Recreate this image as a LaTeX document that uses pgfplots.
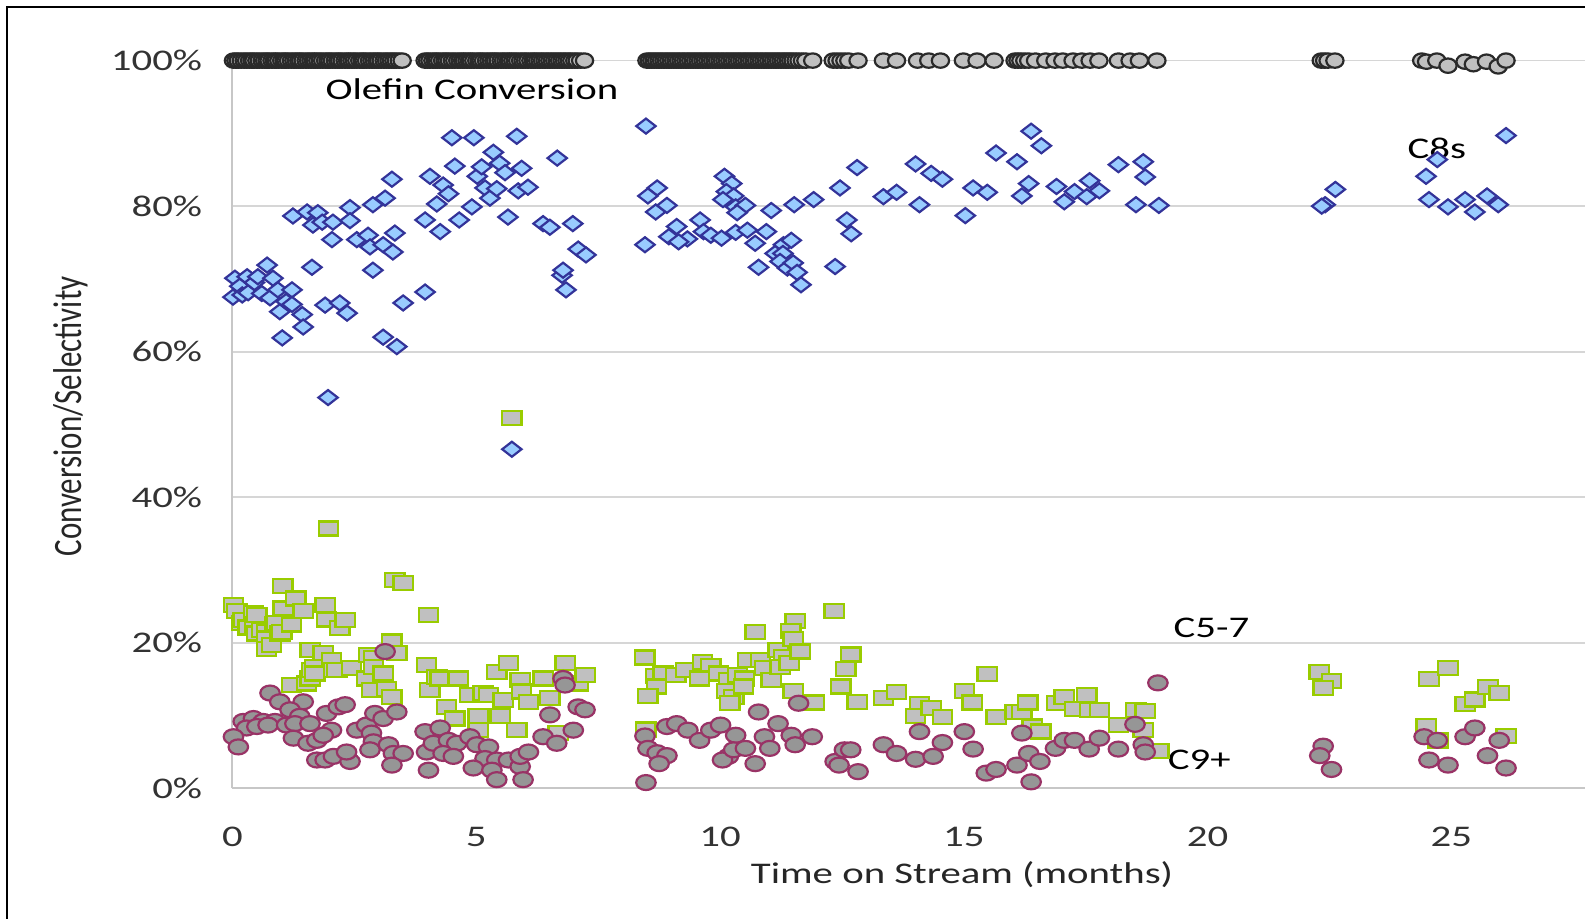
\documentclass[border=0pt]{standalone}
\usepackage{fontspec}
\setmainfont[FakeStretch=1.36]{Carlito}
\newfontfamily\ylabfont{Carlito}
\usepackage{graphicx}
\usepackage{pgfplots}
\pgfplotsset{compat=1.18}
\definecolor{olefill}{HTML}{C0C0C0}
\definecolor{oledraw}{HTML}{2A2A2A}
\definecolor{c8fill}{HTML}{99CCFF}
\definecolor{c8draw}{HTML}{333399}
\definecolor{c57fill}{HTML}{C0C0C0}
\definecolor{c57draw}{HTML}{99CC00}
\definecolor{c9fill}{HTML}{969696}
\definecolor{c9draw}{HTML}{993366}
\newcommand{\lblfont}{\fontsize{15pt}{18pt}\selectfont}
\begin{document}
\begin{tikzpicture}
\path[use as bounding box] (-116.25pt,-65.3pt) rectangle (676.25pt,394.2pt);
\draw[black, line width=1pt] (-112.75pt,-66pt) -- (-112.75pt,390.7pt) -- (677pt,390.7pt);
\begin{axis}[
  at={(0pt,0pt)}, anchor=south west,
  width=676.25pt, height=363.9pt, scale only axis,
  xmin=0, xmax=27.74, ymin=0, ymax=100,
  clip=false,
  axis lines=left,
  axis line style={-, draw=black!22, line width=1pt},
  ymajorgrids, grid style={draw=black!16, line width=0.8pt},
  xtick={0,5,10,15,20,25}, xticklabels={0,5,10,15,20,25},
  ytick={0,20,40,60,80,100}, yticklabels={0\%,20\%,40\%,60\%,80\%,100\%},
  major tick length=0pt,
  tick label style={font=\lblfont, text=black!80},
  yticklabel style={anchor=east, inner sep=0pt, xshift=-15pt},
  xticklabel style={anchor=base, inner sep=0pt, yshift=-29pt},
  xlabel={Time on Stream (months)},
  xlabel style={at={(axis description cs:0.5394,-0.119)}, anchor=center, font=\lblfont, text=black!85},
  ylabel={\ylabfont\fontsize{15.5pt}{18pt}\selectfont\scalebox{1}[1.3]{Conversion/Selectivity}},
  ylabel style={at={(axis description cs:-0.1194,0.511)}, anchor=center, text=black!85},
]
% Olefin Conversion
\addplot[only marks, mark=*, mark size=3.6pt, mark options={xscale=1.2, fill=olefill, draw=oledraw, line width=1.1pt}] table {
x y
0.02 100
0.07 100
0.12 100
0.18 100
0.24 100
0.29 100
0.35 100
0.40 100
0.44 100
0.50 100
0.55 100
0.61 100
0.66 100
0.71 100
0.75 100
0.81 100
0.86 100
0.90 100
0.95 100
1.01 100
1.06 100
1.10 100
1.15 100
1.21 100
1.26 100
1.31 100
1.36 100
1.40 100
1.45 100
1.51 100
1.56 100
1.61 100
1.66 100
1.70 100
1.75 100
1.80 100
1.85 100
1.91 100
1.96 100
2.00 100
2.05 100
2.11 100
2.16 100
2.20 100
2.25 100
2.31 100
2.36 100
2.40 100
2.45 100
2.50 100
2.55 100
2.61 100
2.66 100
2.70 100
2.75 100
2.81 100
2.86 100
2.91 100
2.96 100
3.00 100
3.05 100
3.11 100
3.16 100
3.21 100
3.26 100
3.31 100
3.36 100
3.42 100
3.48 100
3.95 100
4.00 100
4.05 100
4.11 100
4.16 100
4.20 100
4.25 100
4.31 100
4.36 100
4.40 100
4.45 100
4.51 100
4.56 100
4.62 100
4.67 100
4.72 100
4.76 100
4.81 100
4.86 100
4.90 100
4.95 100
5.01 100
5.06 100
5.10 100
5.15 100
5.21 100
5.26 100
5.31 100
5.36 100
5.40 100
5.45 100
5.51 100
5.56 100
5.61 100
5.66 100
5.70 100
5.75 100
5.80 100
5.85 100
5.91 100
5.96 100
6.01 100
6.06 100
6.12 100
6.17 100
6.21 100
6.26 100
6.31 100
6.36 100
6.41 100
6.46 100
6.51 100
6.56 100
6.61 100
6.66 100
6.71 100
6.76 100
6.81 100
6.86 100
6.91 100
6.96 100
7.02 100
7.07 100
7.14 100
7.22 100
8.50 100
8.55 100
8.60 100
8.65 100
8.70 100
8.75 100
8.80 100
8.85 100
8.90 100
8.95 100
9.00 100
9.05 100
9.10 100
9.15 100
9.20 100
9.25 100
9.30 100
9.35 100
9.40 100
9.45 100
9.50 100
9.55 100
9.60 100
9.65 100
9.70 100
9.75 100
9.80 100
9.85 100
9.90 100
9.95 100
10.00 100
10.05 100
10.10 100
10.15 100
10.20 100
10.25 100
10.30 100
10.35 100
10.40 100
10.45 100
10.50 100
10.55 100
10.60 100
10.65 100
10.70 100
10.75 100
10.80 100
10.85 100
10.90 100
10.95 100
11.00 100
11.05 100
11.10 100
11.15 100
11.20 100
11.25 100
11.30 100
11.35 100
11.40 100
11.45 100
11.50 100
11.56 100
11.62 100
11.69 100
11.76 100
11.90 100
12.32 100
12.40 100
12.48 100
12.56 100
12.64 100
12.83 100
13.35 100
13.62 100
14.05 100
14.28 100
14.52 100
14.99 100
15.27 100
15.62 100
16.05 100
16.11 100
16.17 100
16.25 100
16.33 100
16.47 100
16.68 100
16.87 100
17.03 100
17.24 100
17.42 100
17.59 100
17.77 100
18.17 100
18.41 100
18.60 100
18.96 100
22.33 100
22.40 100
22.47 100
22.61 100
24.39 100
24.49 99.85
24.70 100
24.93 99.3
25.28 99.85
25.45 99.5
25.72 99.85
25.96 99.2
26.12 100
};
% C8s
\addplot[only marks, mark=diamond*, mark size=3.75pt, mark options={xscale=1.72, fill=c8fill, draw=c8draw, line width=1.1pt}] table {
x y
0.01 67.5
0.05 70.1
0.15 69.0
0.20 67.8
0.30 70.3
0.32 68.1
0.45 69.5
0.52 70.3
0.60 68.0
0.71 71.9
0.77 67.4
0.83 70.1
0.93 68.5
0.97 65.5
1.02 61.9
1.10 66.9
1.22 68.5
1.22 66.5
1.24 78.65
1.43 65.1
1.45 63.4
1.53 79.2
1.63 71.6
1.65 77.4
1.75 79.1
1.84 77.8
1.90 66.4
1.96 53.7
2.04 75.4
2.06 77.8
2.20 66.7
2.35 65.3
2.41 79.8
2.41 78.0
2.55 75.4
2.78 76.0
2.82 74.4
2.88 80.2
2.88 71.2
3.09 74.7
3.09 62.0
3.13 81.1
3.27 83.7
3.29 73.7
3.33 76.3
3.37 60.7
3.50 66.7
3.95 78.1
3.95 68.2
4.05 84.1
4.19 80.3
4.26 76.5
4.32 82.9
4.43 81.7
4.50 89.4
4.56 85.5
4.65 78.1
4.91 79.9
4.95 89.4
5.02 84.1
5.11 85.4
5.18 82.5
5.28 81.1
5.35 87.4
5.42 82.4
5.48 85.9
5.59 84.6
5.65 78.5
5.73 46.6
5.83 89.6
5.86 82.1
5.93 85.2
6.06 82.6
6.37 77.6
6.51 77.1
6.66 86.6
6.76 70.5
6.78 71.2
6.84 68.5
6.98 77.6
7.09 74.1
7.25 73.3
8.48 91.0
8.71 82.5
8.52 81.4
8.68 79.2
8.91 80.1
9.11 77.2
9.33 75.5
8.46 74.7
8.95 75.8
9.15 75.1
9.59 78.1
9.66 76.5
9.81 76.0
10.03 75.6
10.09 84.1
10.24 83.1
10.13 82.0
10.28 81.4
10.06 80.9
10.32 79.9
10.52 80.1
10.35 79.1
10.32 76.4
10.56 76.7
10.72 74.9
10.95 76.5
11.05 79.4
10.79 71.6
11.13 73.5
11.30 74.7
11.46 75.3
11.29 73.5
11.23 72.4
11.38 71.5
11.50 72.2
11.58 70.9
11.66 69.2
11.52 80.2
11.92 80.9
12.46 82.5
12.81 85.3
12.60 78.1
12.69 76.2
12.36 71.7
13.35 81.3
13.62 81.9
14.01 85.8
14.33 84.5
14.56 83.7
14.09 80.2
15.03 78.7
15.19 82.5
15.48 81.9
15.66 87.3
16.09 86.1
16.38 90.3
16.59 88.3
16.33 83.1
16.19 81.4
16.90 82.7
17.06 80.6
17.27 82.0
17.52 81.3
17.58 83.5
17.78 82.1
18.17 85.7
18.68 86.1
18.72 84.0
18.53 80.2
19.00 80.1
22.41 80.2
22.34 80.0
22.62 82.3
24.48 84.1
24.71 86.4
24.54 80.9
24.93 79.9
25.28 80.9
25.48 79.2
25.73 81.4
25.96 80.2
26.12 89.7
};
% C5-7
\addplot[only marks, mark=square*, mark size=3.5pt, mark options={xscale=1.38, fill=c57fill, draw=c57draw, line width=1.15pt}] table {
x y
0.02 25.2
0.09 24.4
0.19 22.7
0.22 23.1
0.32 22.1
0.43 24.1
0.46 22.5
0.50 23.8
0.50 21.3
0.60 21.8
0.70 21.5
0.70 20.6
0.70 19.2
0.80 19.7
0.87 22.5
0.91 22.7
0.97 21.3
1.01 21.5
1.03 27.8
1.04 24.7
1.21 22.5
1.30 26.1
1.45 24.4
1.21 14.2
1.52 14.4
1.59 15.1
1.59 19.0
1.62 16.3
1.69 16.7
1.69 15.8
1.86 18.6
1.90 25.2
1.93 23.2
1.97 35.7
2.03 17.6
2.07 16.3
2.14 16.3
2.20 22.0
2.31 23.1
2.44 16.5
2.75 15.1
2.79 18.3
2.85 13.5
2.89 17.9
2.89 16.7
3.09 15.8
3.16 13.7
3.27 20.2
3.27 12.6
3.33 28.6
3.37 18.6
3.50 28.2
3.98 17.0
4.02 23.8
4.05 13.5
4.19 15.3
4.26 15.1
4.39 11.2
4.56 9.6
4.63 15.1
4.87 12.8
5.04 8.0
5.04 9.9
5.14 13.1
5.25 12.8
5.42 16.0
5.49 9.9
5.55 12.1
5.66 17.2
5.73 50.9
5.83 8.0
5.90 14.9
5.93 13.3
6.07 11.9
6.37 15.1
6.51 12.4
6.68 7.6
6.82 17.2
7.09 14.4
7.23 15.6
8.46 18.0
8.68 15.4
8.83 15.8
9.09 15.6
9.30 16.3
9.64 17.4
9.81 16.8
9.58 15.1
9.97 15.8
10.17 14.9
10.36 15.6
10.50 15.1
10.56 17.6
10.83 17.6
10.91 16.5
11.05 14.9
11.19 19.0
11.30 18.1
11.23 16.7
11.42 17.2
8.70 14.0
8.52 12.7
10.14 13.4
10.28 12.6
10.20 11.7
10.48 14.0
11.50 13.4
11.93 11.8
12.48 14.0
12.81 11.9
12.34 24.4
11.54 23.0
10.72 21.5
11.45 21.6
11.50 20.5
11.64 18.8
12.68 18.4
12.58 16.4
13.35 12.4
13.62 13.2
14.09 11.6
14.01 9.9
14.33 11.0
14.56 9.8
15.01 13.4
15.17 11.8
15.48 15.7
15.66 9.8
16.05 10.5
16.19 10.5
16.31 11.8
16.40 8.5
16.58 7.8
16.90 11.7
17.06 12.6
17.27 10.9
17.52 12.8
17.58 10.8
17.78 10.8
18.17 8.7
18.53 10.8
18.72 10.6
18.68 8.0
19.00 5.1
8.48 8.1
22.29 16.0
22.54 14.8
22.37 13.8
24.54 15.0
24.93 16.5
25.28 11.6
25.48 12.2
25.75 13.9
25.98 13.1
24.48 8.6
24.73 6.6
26.12 7.2
};
% C9+
\addplot[only marks, mark=*, mark size=3.75pt, mark options={xscale=1.3, fill=c9fill, draw=c9draw, line width=1.1pt}] table {
x y
0.77 13.1
0.97 11.9
1.45 11.9
1.18 10.8
1.38 9.9
0.22 9.2
0.43 9.6
0.63 9.2
0.87 9.2
0.29 8.3
0.50 8.5
0.73 8.7
1.11 8.7
1.28 8.9
1.59 8.9
1.93 10.3
2.17 11.2
2.31 11.5
0.02 7.1
0.12 5.7
1.25 6.9
1.55 6.2
1.73 6.6
2.03 8.0
1.86 7.3
1.73 3.9
1.90 3.9
2.07 4.4
2.41 3.7
2.34 5.0
2.55 8.0
2.75 8.7
2.92 10.3
3.09 9.6
3.37 10.5
2.85 7.6
2.89 6.4
2.82 5.3
3.20 6.0
3.30 4.8
3.50 4.8
3.27 3.2
3.95 7.8
3.98 5.0
4.02 2.5
3.13 18.8
4.26 8.3
4.12 6.2
4.43 6.6
4.60 6.2
4.32 4.8
4.53 4.4
4.87 7.1
5.01 6.0
5.25 5.7
5.18 4.1
5.42 3.9
4.94 2.8
5.32 2.5
5.66 3.9
5.90 3.0
5.42 1.2
5.96 1.2
5.90 4.4
6.07 5.0
6.51 10.1
6.78 15.1
6.82 14.2
7.09 11.2
7.23 10.8
6.99 8.0
6.37 7.1
6.65 6.2
8.46 7.2
8.91 8.5
9.11 8.9
9.34 8.0
9.58 6.6
9.81 8.0
10.01 8.7
8.52 5.5
8.71 4.9
8.91 4.5
8.75 3.4
8.48 0.8
10.32 7.3
10.91 7.1
11.19 8.9
11.46 7.3
11.89 7.1
10.17 4.4
10.05 3.9
10.28 5.3
10.52 5.5
10.72 3.4
11.02 5.5
11.54 6.0
11.61 11.7
10.79 10.5
12.36 3.7
12.44 3.2
12.55 5.3
12.68 5.3
12.83 2.3
13.35 6.0
13.62 4.8
14.01 4.0
14.37 4.4
14.56 6.3
14.09 7.8
15.01 7.8
15.19 5.4
15.46 2.1
15.66 2.6
16.09 3.2
16.33 4.8
16.56 3.7
16.38 0.9
16.19 7.6
16.88 5.5
17.06 6.6
17.27 6.6
17.57 5.4
17.78 6.9
18.17 5.4
18.68 6.0
18.72 5.0
18.51 8.8
18.98 14.5
22.37 5.8
22.30 4.5
22.54 2.6
24.44 7.1
24.71 6.6
25.28 7.1
25.48 8.3
25.98 6.6
24.54 3.9
24.93 3.2
25.74 4.5
26.12 2.8
};
\node[font=\lblfont, text=black] at (axis cs:4.91,96.1) {Olefin Conversion};
\node[font=\lblfont, text=black] at (axis cs:24.7,87.9) {C8s};
\node[font=\lblfont, text=black] at (axis cs:20.08,22.0) {C5-7};
\node[font=\lblfont, text=black] at (axis cs:19.83,3.9) {C9+};
\end{axis}
\end{tikzpicture}
\end{document}
